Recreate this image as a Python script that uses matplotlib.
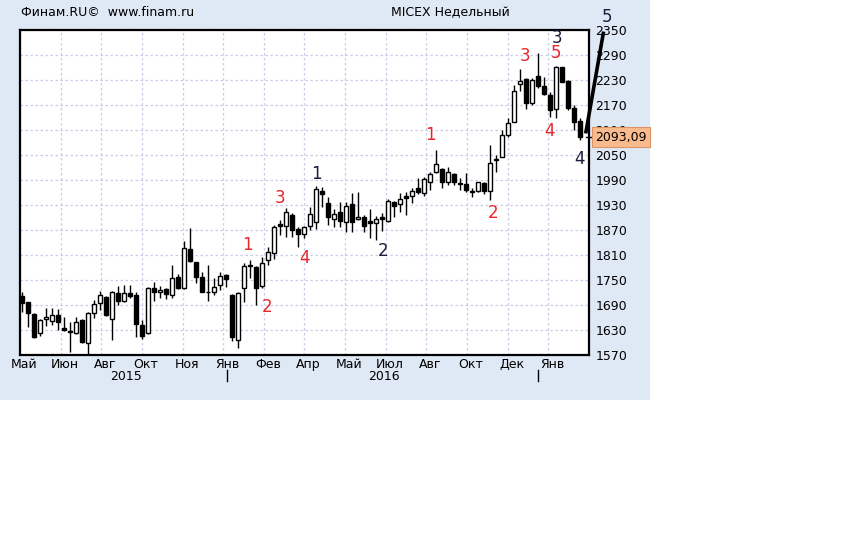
import matplotlib
matplotlib.use('Agg')
import matplotlib.pyplot as plt
import matplotlib.transforms as mtransforms
from matplotlib.patches import Rectangle
import numpy as np

# weekly MICEX candles
opens = [1712, 1696, 1668, 1622, 1656, 1652, 1666, 1634, 1628, 1622,
         1654, 1598, 1670, 1694, 1710, 1656, 1718, 1700, 1718, 1714,
         1642, 1622, 1730, 1720, 1728, 1714, 1756, 1730, 1824, 1792,
         1756, 1722, 1722, 1738, 1762, 1714, 1606, 1730, 1784, 1782,
         1736, 1798, 1814, 1884, 1880, 1906, 1872, 1860, 1880, 1890,
         1964, 1934, 1896, 1912, 1888, 1932, 1896, 1900, 1892, 1886,
         1900, 1892, 1936, 1932, 1952, 1952, 1970, 1958, 1986, 2010,
         2016, 1986, 2004, 1982, 1980, 1962, 1964, 1982, 1964, 2038,
         2046, 2098, 2130, 2220, 2232, 2174, 2240, 2216, 2194, 2160,
         2260, 2228, 2162, 2132]
highs = [1720, 1698, 1670, 1656, 1683, 1682, 1680, 1662, 1650, 1662,
         1656, 1672, 1702, 1724, 1712, 1724, 1736, 1738, 1738, 1722,
         1654, 1734, 1746, 1736, 1730, 1786, 1764, 1844, 1874, 1794,
         1770, 1786, 1754, 1770, 1764, 1716, 1720, 1790, 1798, 1784,
         1806, 1830, 1882, 1894, 1922, 1910, 1876, 1880, 1926, 1976,
         1974, 1948, 1920, 1938, 1938, 1958, 1962, 1906, 1920, 1904,
         1910, 1944, 1940, 1958, 1962, 1970, 1994, 1998, 2008, 2062,
         2018, 2022, 2006, 1994, 2006, 1970, 1986, 1986, 2074, 2050,
         2110, 2138, 2218, 2256, 2234, 2234, 2294, 2236, 2202, 2264,
         2262, 2230, 2170, 2138]
lows = [1674, 1636, 1610, 1616, 1640, 1642, 1630, 1628, 1578, 1620,
        1598, 1572, 1658, 1678, 1664, 1606, 1690, 1698, 1706, 1614,
        1608, 1620, 1700, 1706, 1704, 1706, 1728, 1728, 1794, 1742,
        1720, 1700, 1714, 1726, 1734, 1604, 1586, 1698, 1755, 1690,
        1730, 1786, 1800, 1858, 1854, 1852, 1828, 1850, 1870, 1872,
        1926, 1882, 1878, 1878, 1866, 1866, 1893, 1864, 1850, 1846,
        1868, 1890, 1902, 1912, 1906, 1934, 1957, 1952, 1966, 2006,
        1970, 1978, 1978, 1966, 1962, 1948, 1962, 1956, 1942, 2010,
        2044, 2094, 2128, 2204, 2160, 2170, 2210, 2194, 2142, 2138,
        2224, 2158, 2110, 2086]
closes = [1694, 1670, 1612, 1654, 1660, 1666, 1648, 1631, 1626, 1650,
          1600, 1670, 1692, 1714, 1666, 1720, 1700, 1718, 1712, 1644,
          1616, 1731, 1720, 1726, 1716, 1754, 1730, 1826, 1796, 1758,
          1722, 1720, 1734, 1760, 1752, 1612, 1718, 1784, 1786, 1730,
          1790, 1816, 1878, 1880, 1912, 1870, 1860, 1876, 1908, 1968,
          1956, 1902, 1908, 1892, 1928, 1888, 1902, 1880, 1886, 1896,
          1896, 1940, 1928, 1944, 1946, 1964, 1960, 1992, 2004, 2028,
          1984, 2010, 1984, 1980, 1966, 1964, 1984, 1964, 2030, 2040,
          2098, 2126, 2204, 2228, 2174, 2230, 2216, 2196, 2158, 2262,
          2226, 2162, 2130, 2093]

last_price = 2093.09
month_labels = ['Май', 'Июн', 'Авг', 'Окт', 'Ноя', 'Янв', 'Фев',
                'Апр', 'Май', 'Июл', 'Авг', 'Окт', 'Дек', 'Янв']
year_labels = ['2015', '2016']
year_pos = [17.3, 60.3]
year_marks = [34.07, 86.0]
y_ticks = list(range(1570, 2351, 60))

# Elliott wave marks: text, candle index, price
red_marks = [('1', 37.5, 1834), ('2', 40.8, 1686), ('3', 42.95, 1947),
             ('4', 47.1, 1802), ('1', 68.1, 2098), ('2', 78.5, 1910),
             ('3', 83.8, 2288), ('5', 88.95, 2294), ('4', 87.8, 2108)]
dark_marks = [('1', 48.95, 2004), ('2', 60.07, 1820), ('3', 89.07, 2330),
              ('4', 92.95, 2040), ('5', 97.4, 2382)]
wave_x = [93.95, 96.83]
wave_y = [2106, 2342]

W, H = 864, 540
fig = plt.figure(figsize=(W / 100, H / 100), dpi=100)
fig.patch.set_facecolor('white')
bg = Rectangle((0, 1 - 400 / H), 650 / W, 400 / H, transform=fig.transFigure,
               facecolor='#dfe8f5', edgecolor='none', zorder=-10)
fig.patches.append(bg)

ax = fig.add_axes([20 / W, 1 - 355 / H, 569 / W, 325 / H], zorder=1)
ax.set_facecolor('white')
xmin, xmax = -0.38, 94.45
ax.set_xlim(xmin, xmax)
ax.set_ylim(1570, 2350)

# grid
xt = [xmin + k * (xmax - xmin) / 14 for k in range(14)]
ax.set_xticks(xt)
ax.set_xticklabels(month_labels, fontsize=9)
ax.set_yticks(y_ticks)
ax.set_yticklabels([str(v) for v in y_ticks], fontsize=9)
ax.yaxis.tick_right()
ax.tick_params(axis='both', length=0)
ax.tick_params(axis='y', pad=4.5)
ax.tick_params(axis='x', pad=2)
shift = mtransforms.ScaledTranslation(4 / 100, 0, fig.dpi_scale_trans)
for lab in ax.get_xticklabels():
    lab.set_transform(lab.get_transform() + shift)
ax.grid(True, color='#c9cde8', linestyle=(0, (2, 2)), linewidth=0.9)
ax.set_axisbelow(True)
for sp in ax.spines.values():
    sp.set_linewidth(1.6)
    sp.set_color('black')

# candles
x = np.arange(len(opens))
o = np.array(opens); c = np.array(closes)
ax.vlines(x, lows, highs, color='black', linewidth=1, zorder=2)
body = np.maximum(np.abs(c - o), 1.5)
ax.bar(x, body, bottom=np.minimum(o, c), width=0.7,
       color=['white' if cc >= oo else 'black' for oo, cc in zip(o, c)],
       edgecolor='black', linewidth=1, zorder=3)

# wave labels
for t, xi, yv in red_marks:
    ax.text(xi, yv, t, color='#e8262c', fontsize=12, ha='center', va='center', zorder=4)
for t, xi, yv in dark_marks:
    ax.text(xi, yv, t, color='#1c1c3c', fontsize=12, ha='center', va='center',
            zorder=4, clip_on=False)
ax.plot(wave_x, wave_y, color='black', linewidth=2.6, clip_on=False, zorder=4)

# last price box
ax.plot([93.9, 94.8], [last_price, last_price], color='black', linewidth=1,
        clip_on=False, zorder=4)
ax.annotate(f'{last_price:.2f}'.replace('.', ','), xy=(1, last_price),
            xycoords=('axes fraction', 'data'), xytext=(4.5, 0),
            textcoords='offset points', ha='left', va='center', fontsize=9,
            zorder=6, annotation_clip=False,
            bbox=dict(boxstyle='square,pad=0.28', facecolor='#f9bb8d',
                      edgecolor='#dc9464', linewidth=0.8))

# years below the month row
for t, xi in zip(year_labels, year_pos):
    ax.annotate(t, xy=(xi, 0), xycoords=('data', 'axes fraction'),
                xytext=(0, -15.8), textcoords='offset points',
                ha='center', va='center', fontsize=9)
for xi in year_marks:
    ax.plot([xi, xi], [-0.046, -0.08], color='black', linewidth=1,
            transform=ax.get_xaxis_transform(), clip_on=False)

fig.text(21 / W, 1 - 13 / H, 'Финам.RU©  www.finam.ru', fontsize=9,
         ha='left', va='center')
fig.text(391 / W, 1 - 13 / H, 'MICEX Недельный', fontsize=9,
         ha='left', va='center')

fig.savefig('out.png', dpi=100)
